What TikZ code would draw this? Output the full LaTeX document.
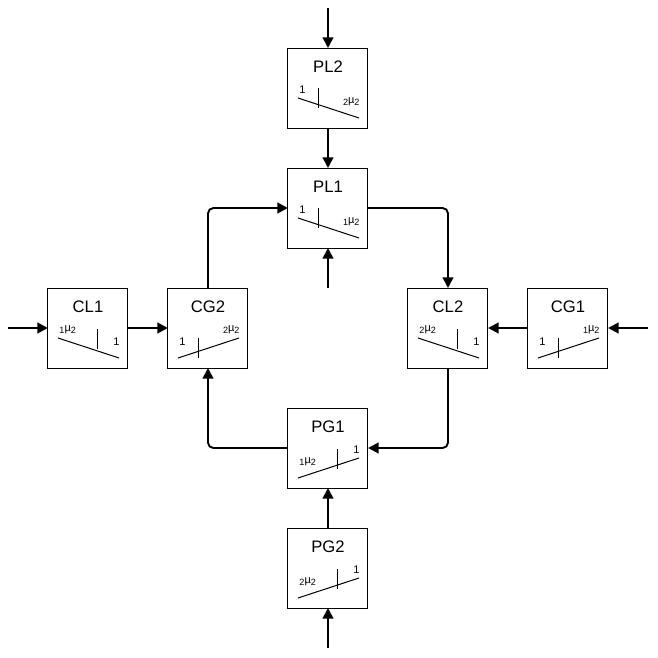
\documentclass[tikz,border=0pt]{standalone}
\usepackage{fontspec}
\setmainfont{Liberation Sans}
\usetikzlibrary{positioning,arrows.meta,calc}
\newcommand{\mus}[2]{\raisebox{-1.6pt}{\fontsize{6.8}{7}\selectfont #1}µ\raisebox{-1.6pt}{\fontsize{6.8}{7}\selectfont #2}}

\begin{document}
\begin{tikzpicture}[
box/.style={rectangle, draw=black, line width=0.75pt, minimum size=60pt, inner sep=0pt, outer sep=0pt,
  label={[anchor=center, yshift=-14.25pt, font=\fontsize{12.5}{14}\selectfont]north:#1}},
lbl/.style={font=\fontsize{8.3}{9}\selectfont, inner sep=0pt},
flow/.style={line width=1.4pt, rounded corners=4pt, -{Triangle[length=8pt, width=8pt]}},
pics/fall/.style n args={4}{code={
  \begin{scope}[x=0.75pt, y=-0.75pt, line width=0.75pt]
  \draw (-30,10) -- (31,30);
  \draw (#1,#2) -- ++(0,20);
  \node[lbl, anchor=west] at (-29,2) {#3};
  \node[lbl, anchor=east] at (32,14) {#4};
  \end{scope}
}},
pics/rise/.style n args={4}{code={
  \begin{scope}[x=0.75pt, y=-0.75pt, line width=0.75pt]
  \draw (-30,30) -- (31,10);
  \draw (#1,#2) -- ++(0,20);
  \node[lbl, anchor=west] at (-29,14) {#3};
  \node[lbl, anchor=east] at (32,2) {#4};
  \end{scope}
}},
]
\node[box=PL1] (PL1) {};
\useasboundingbox (-246pt,156pt) rectangle (247.5pt,-337.5pt);
\node[box=PL2, above=30pt of PL1] (PL2) {};
\node[box=CG2, below left=30pt and 30pt of PL1] (CG2) {};
\node[box=CL1, left=30pt of CG2] (CL1) {};
\node[box=CL2, below right=30pt and 30pt of PL1] (CL2) {};
\node[box=CG1, right=30pt of CL2] (CG1) {};
\node[box=PG1, below right=30pt and 30pt of CG2] (PG1) {};
\node[box=PG2, below=30pt of PG1] (PG2) {};

% switch marks
\pic at (PL2) {fall={-9}{0}{1}{\mus22}};
\pic at (PL1) {fall={-9}{0}{1}{\mus12}};
\pic at (CL1) {fall={10}{1}{\mus12}{1}};
\pic at (CL2) {fall={10}{1}{\mus22}{1}};
\pic at (CG2) {rise={-9}{10}{1}{\mus22}};
\pic at (CG1) {rise={-9}{10}{1}{\mus12}};
\pic at (PG1) {rise={10}{1}{\mus12}{1}};
\pic at (PG2) {rise={10}{1}{\mus22}{1}};

% free ends
\coordinate[above=30pt of PL2] (inPL2);
\coordinate[below=30pt of PL1] (inPL1);
\coordinate[left=30pt of CL1] (inCL1);
\coordinate[right=30pt of CG1] (inCG1);
\coordinate[below=30pt of PG2] (inPG2);

\draw[flow] (inPL2) -- (PL2);
\draw[flow] (PL2) -- (PL1);
\draw[flow] (inPL1) -- (PL1);
\draw[flow] (inCL1) -- (CL1);
\draw[flow] (CL1) -- (CG2);
\draw[flow] (inCG1) -- (CG1);
\draw[flow] (CG1) -- (CL2);
\draw[flow] (inPG2) -- (PG2);
\draw[flow] (PG2) -- (PG1);
\draw[flow] (CG2) |- (PL1);
\draw[flow] (PL1) -| (CL2);
\draw[flow] (CL2) |- (PG1);
\draw[flow] (PG1) -| (CG2);
\end{tikzpicture}
\end{document}
